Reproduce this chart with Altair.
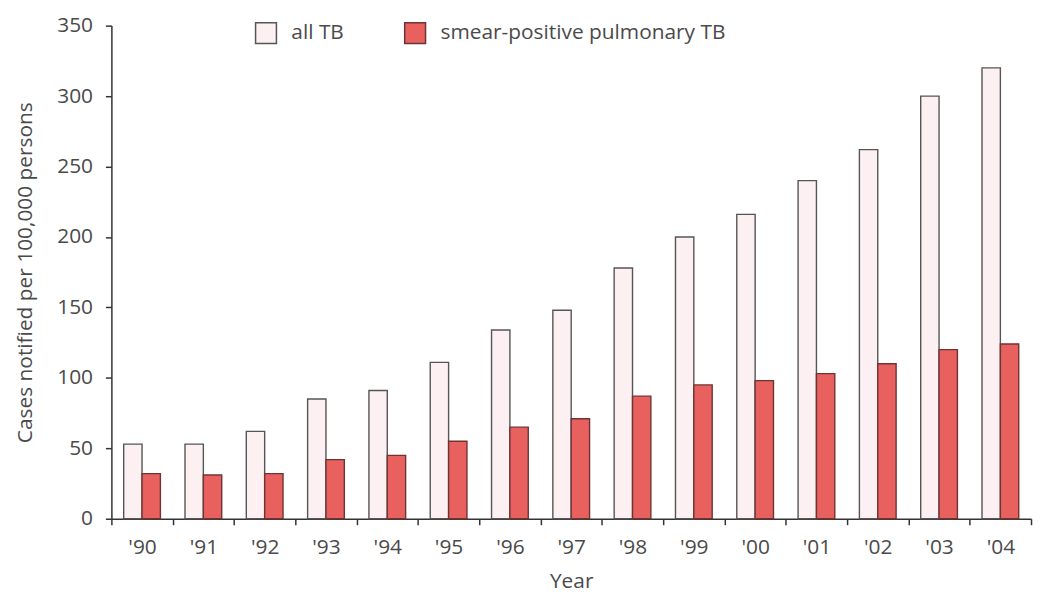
import altair as alt
import pandas as pd

years = ["'90", "'91", "'92", "'93", "'94", "'95", "'96", "'97", "'98", "'99",
         "'00", "'01", "'02", "'03", "'04"]
all_tb = [53, 53, 62, 85, 91, 111, 134, 148, 178, 200, 216, 240, 262, 300, 320]
smear_tb = [32, 31, 32, 42, 45, 55, 65, 71, 87, 95, 98, 103, 110, 120, 124]
series = ["all TB", "smear-positive pulmonary TB"]

rows = []
for y, a, s in zip(years, all_tb, smear_tb):
    rows.append({"year": y, "series": series[0], "value": a})
    rows.append({"year": y, "series": series[1], "value": s})
df = pd.DataFrame(rows)

FONT = "Open Sans"
TXT = "#4a4a4a"

legend = alt.Legend(
    title=None, orient="none", legendX=144, legendY=-4, direction="horizontal",
    symbolType="square", symbolSize=440, symbolStrokeWidth=1.5,
    labelFont=FONT, labelFontSize=21, labelColor=TXT, labelOffset=14,
    labelLimit=0, columnPadding=58, padding=0,
)

chart = alt.Chart(df).mark_bar(strokeWidth=1.4).encode(
    x=alt.X("year:N", sort=years, title="Year",
            scale=alt.Scale(paddingInner=0, paddingOuter=0),
            axis=alt.Axis(labelAngle=0, tickBand="extent", tickSize=6,
                          labelPadding=12, titlePadding=13)),
    xOffset=alt.XOffset("series:N", sort=series,
                        scale=alt.Scale(paddingOuter=0.67, paddingInner=0)),
    y=alt.Y("value:Q", title="Cases notified per 100,000 persons",
            scale=alt.Scale(domain=[0, 350], nice=False),
            axis=alt.Axis(values=list(range(0, 351, 50)), tickSize=6,
                          labelPadding=13, titlePadding=21, grid=False)),
    fill=alt.Fill("series:N", sort=series,
                  scale=alt.Scale(domain=series, range=["#fcf0f2", "#e8615f"]),
                  legend=legend),
    stroke=alt.Stroke("series:N", sort=series,
                      scale=alt.Scale(domain=series, range=["#555555", "#6e3434"]),
                      legend=legend),
).properties(
    width=925, height=496,
    autosize=alt.AutoSizeParams(type="none"),
    padding={"left": 104, "top": 16, "right": 4, "bottom": 80},
).configure_view(
    stroke=None
).configure_axis(
    labelFont=FONT, titleFont=FONT, labelFontSize=21, titleFontSize=21,
    labelColor=TXT, titleColor=TXT, titleFontWeight="normal",
    domainColor="#333333", tickColor="#333333", domainWidth=1.5, tickWidth=1.5,
)

chart.save("out.html", embed_options={"renderer": "svg", "actions": False})
